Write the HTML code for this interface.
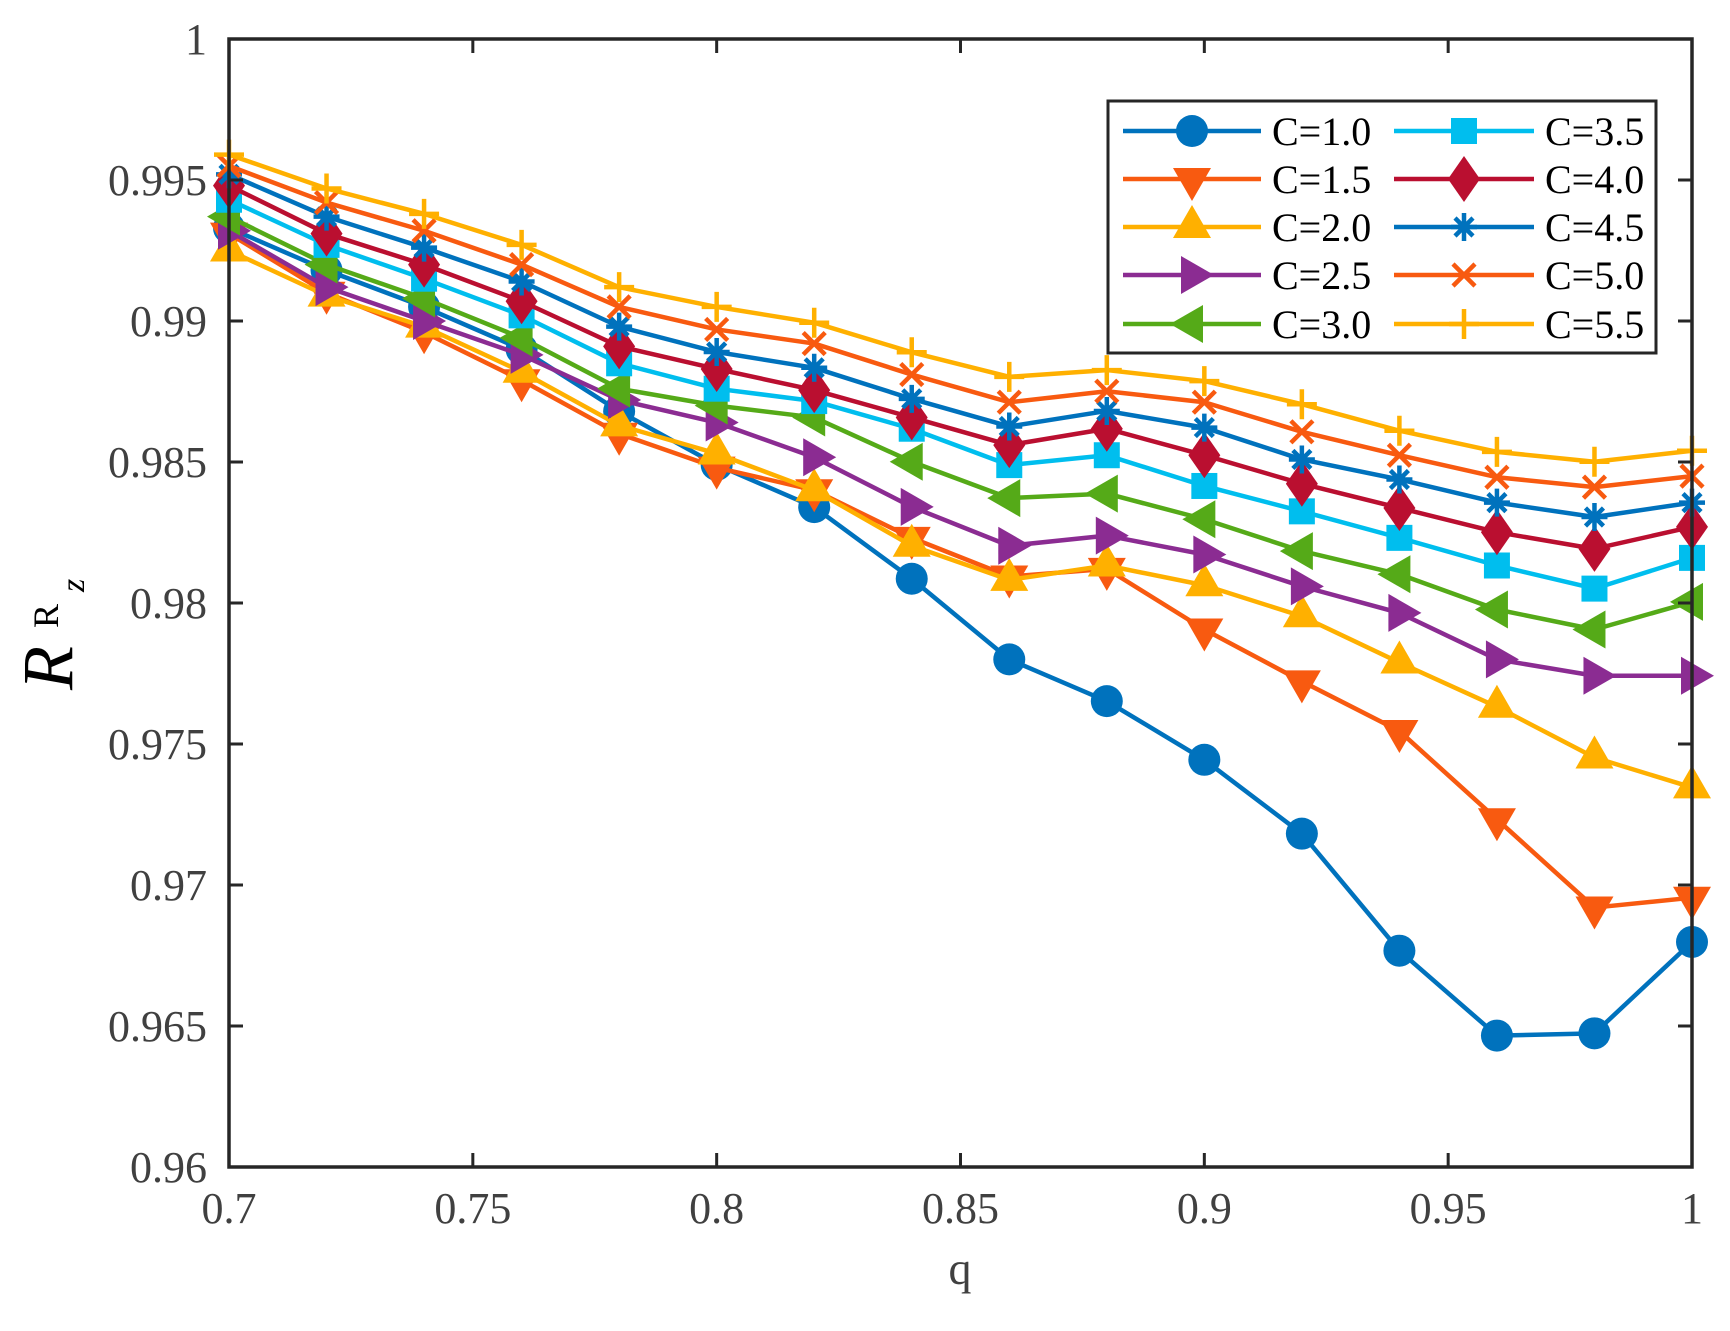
<!DOCTYPE html>
<html><head><meta charset="utf-8"><style>
html,body{margin:0;padding:0;background:#fff;}
svg{display:block;font-family:"Liberation Serif",serif;}
</style></head><body>
<svg id="chart" width="1730" height="1331" viewBox="0 0 1730 1331" xmlns="http://www.w3.org/2000/svg">
<g id="plot"></g>
<g id="axes"></g>
<g id="legend"></g>
<text x="960" y="1284" font-size="46" fill="#404040" text-anchor="middle">q</text>
<text transform="translate(72,690) rotate(-90)" font-size="72" font-style="italic" fill="#000">R</text>
<text transform="translate(58,628) rotate(-90)" font-size="36" fill="#000">R</text>
<text transform="translate(84,592) rotate(-90)" font-size="34" font-style="italic" fill="#000">z</text>
</svg>
<script>
const qValues=[0.70,0.72,0.74,0.76,0.78,0.80,0.82,0.84,0.86,0.88,0.90,0.92,0.94,0.96,0.98,1.00];
const seriesNames=["C=1.0","C=1.5","C=2.0","C=2.5","C=3.0","C=3.5","C=4.0","C=4.5","C=5.0","C=5.5"];
const sC10=[0.9933,0.9918,0.9905,0.9890,0.9868,0.9849,0.9834,0.98086,0.9780,0.97652,0.97444,0.97182,0.96767,0.96466,0.96474,0.96798];
const sC15=[0.9931,0.9910,0.9896,0.9879,0.9860,0.9848,0.9840,0.98231,0.98094,0.98121,0.97906,0.97722,0.97546,0.97233,0.96920,0.96955];
const sC20=[0.9925,0.9909,0.9898,0.9882,0.9863,0.9853,0.9840,0.98203,0.98082,0.98133,0.98063,0.97953,0.97789,0.97632,0.97452,0.97346];
const sC25=[0.9932,0.9912,0.9900,0.9888,0.9872,0.9864,0.98517,0.98341,0.98203,0.98239,0.98172,0.98059,0.97965,0.97800,0.97742,0.97742];
const sC30=[0.9937,0.9920,0.9908,0.9894,0.9876,0.9870,0.98658,0.98501,0.98372,0.98388,0.98297,0.98184,0.98102,0.97977,0.97906,0.98004];
const sC35=[0.9943,0.9927,0.9915,0.9902,0.9885,0.9876,0.98716,0.98618,0.98489,0.98524,0.98415,0.98325,0.98231,0.98133,0.98051,0.98160];
const sC40=[0.9948,0.9931,0.9920,0.9907,0.9891,0.9883,0.98755,0.98658,0.98560,0.98618,0.98524,0.98423,0.98337,0.98251,0.98192,0.98270];
const sC45=[0.9952,0.9937,0.9926,0.9914,0.9898,0.9889,0.98834,0.98724,0.98626,0.98681,0.98622,0.98509,0.98438,0.98356,0.98305,0.98356];
const sC50=[0.9955,0.9942,0.9932,0.9920,0.9905,0.9897,0.98920,0.98810,0.98712,0.98751,0.98712,0.98607,0.98524,0.98446,0.98411,0.98450];
const sC55=[0.9959,0.9947,0.9938,0.9927,0.9912,0.9905,0.98994,0.98889,0.98802,0.98826,0.98787,0.98705,0.98611,0.98536,0.98501,0.98540];
const xTicks=[0.7,0.75,0.8,0.85,0.9,0.95,1];
const xTickLabels=["0.7","0.75","0.8","0.85","0.9","0.95","1"];
const yTicks=[0.96,0.965,0.97,0.975,0.98,0.985,0.99,0.995,1];
const yTickLabels=["0.96","0.965","0.97","0.975","0.98","0.985","0.99","0.995","1"];

const allSeries=[sC10,sC15,sC20,sC25,sC30,sC35,sC40,sC45,sC50,sC55];
const colors=["#0072BD","#F85A10","#FFB000","#8B2C92","#55AA18","#00BEEE","#BA0F30","#0072BD","#F85A10","#FFB000"];
const markers=["circle","down","up","right","left","square","diamond","star","x","plus"];
const L=229,R=1692,T=39,B=1167;
const xs=v=>L+(v-0.7)/0.3*(R-L);
const ys=v=>B-(v-0.96)/0.04*(B-T);
const NS="http://www.w3.org/2000/svg";
function mk(tag,attrs,parent){const e=document.createElementNS(NS,tag);for(const k in attrs)e.setAttribute(k,attrs[k]);parent.appendChild(e);return e;}
function marker(type,x,y,c,parent){
  const s=16;let e;
  if(type==="circle")e=mk("circle",{cx:x,cy:y,r:s},parent);
  else if(type==="square")e=mk("rect",{x:x-13,y:y-13,width:26,height:26},parent);
  else if(type==="down")e=mk("polygon",{points:`${x-19},${y-11} ${x+19},${y-11} ${x},${y+22}`},parent);
  else if(type==="up")e=mk("polygon",{points:`${x-19},${y+11} ${x+19},${y+11} ${x},${y-22}`},parent);
  else if(type==="right")e=mk("polygon",{points:`${x-11},${y-19} ${x-11},${y+19} ${x+22},${y}`},parent);
  else if(type==="left")e=mk("polygon",{points:`${x+11},${y-19} ${x+11},${y+19} ${x-22},${y}`},parent);
  else if(type==="diamond")e=mk("polygon",{points:`${x},${y-23} ${x+16},${y} ${x},${y+23} ${x-16},${y}`},parent);
  else {
    let d;
    if(type==="plus")d=`M${x-15},${y}H${x+15}M${x},${y-15}V${y+15}`;
    else if(type==="x")d=`M${x-11},${y-11}L${x+11},${y+11}M${x-11},${y+11}L${x+11},${y-11}`;
    else d=`M${x-13},${y}H${x+13}M${x},${y-14}V${y+14}M${x-9},${y-9}L${x+9},${y+9}M${x-9},${y+9}L${x+9},${y-9}`;
    e=mk("path",{d:d,stroke:c,"stroke-width":4.5,fill:"none"},parent);
    return e;
  }
  e.setAttribute("fill",c);
  return e;
}
const plot=document.getElementById("plot");
allSeries.forEach((vals,i)=>{
  const g=mk("g",{},plot);
  
  
  const pts=vals.map((v,j)=>xs(qValues[j])+","+ys(v)).join(" ");
  const pl=mk("polyline",{points:pts,fill:"none",stroke:colors[i],"stroke-width":4.5,"stroke-linejoin":"round"},g);
  
  
  vals.forEach((v,j)=>{
    const m=marker(markers[i],xs(qValues[j]),ys(v),colors[i],g);
    
    
  });
});
const axes=document.getElementById("axes");
mk("rect",{x:L,y:T,width:R-L,height:B-T,fill:"none",stroke:"#262626","stroke-width":3.5},axes);
xTicks.forEach((v,i)=>{
  const x=xs(v);
  mk("path",{d:`M${x},${B}V${B-14}M${x},${T}V${T+14}`,stroke:"#262626","stroke-width":3},axes);
  const t=mk("text",{x:x,y:1223,"font-size":44,fill:"#404040","text-anchor":"middle"},axes);
  t.textContent=xTickLabels[i];
  
  
});
yTicks.forEach((v,i)=>{
  const y=ys(v);
  mk("path",{d:`M${L},${y}H${L+14}M${R},${y}H${R-14}`,stroke:"#262626","stroke-width":3},axes);
  const t=mk("text",{x:207,y:y+15,"font-size":44,fill:"#404040","text-anchor":"end"},axes);
  t.textContent=yTickLabels[i];
  
  
});
const lg=document.getElementById("legend");
mk("rect",{x:1108,y:101,width:548,height:252,fill:"#fff",stroke:"#262626","stroke-width":3},lg);
const rowsY=[131,179,227,275,324];
seriesNames.forEach((n,i)=>{
  const col=Math.floor(i/5),row=i%5;
  const x0=col?1394:1123,x1=col?1534:1261,mx=col?1464:1192,tx=col?1545:1272,y=rowsY[row];
  const g=mk("g",{},lg);
  
  
  mk("line",{x1:x0,y1:y,x2:x1,y2:y,stroke:colors[i],"stroke-width":4.5},g);
  marker(markers[i],mx,y,colors[i],g);
  const t=mk("text",{x:tx,y:y+14,"font-size":40,fill:"#000"},g);
  t.textContent=n;
});
</script>
</body></html>
